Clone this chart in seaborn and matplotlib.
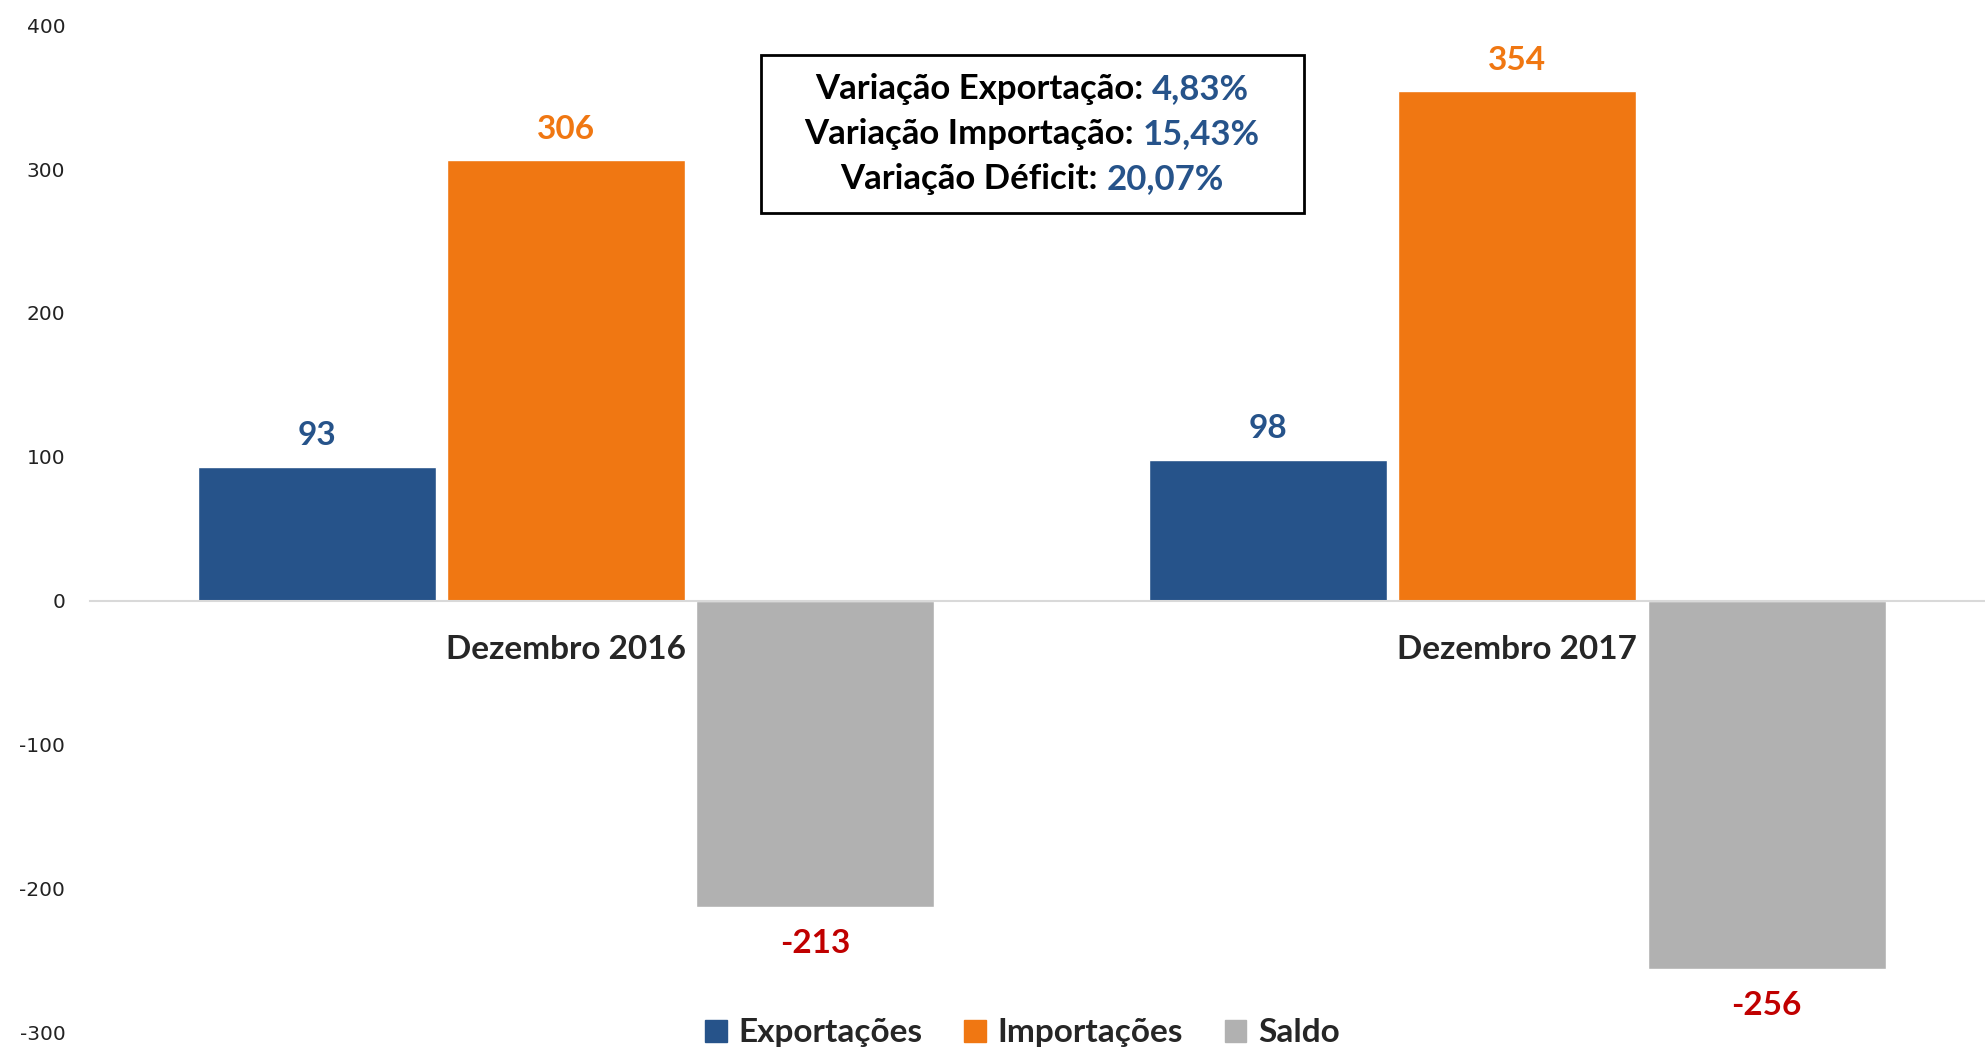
import matplotlib
matplotlib.use("Agg")
import matplotlib.pyplot as plt
import seaborn as sns
import pandas as pd
from matplotlib.offsetbox import TextArea, HPacker, VPacker, AnchoredOffsetbox, DrawingArea
from matplotlib.patches import Patch

# --- Data ---
periods = ["Dezembro 2016", "Dezembro 2017"]
series = ["Exportações", "Importações", "Saldo"]
exportacoes = [93, 98]
importacoes = [306, 354]
saldo = [-213, -256]
var_labels = ["Variação Exportação: ", "Variação Importação: ", "Variação Déficit: "]
var_values = ["4,83%", "15,43%", "20,07%"]
y_ticks = [-300, -200, -100, 0, 100, 200, 300, 400]

bar_colors = ["#26538A", "#F07712", "#B1B1B1"]
label_colors = ["#26538A", "#F07712", "#C00000"]

df = pd.DataFrame({
    "periodo": periods * 3,
    "serie": [s for s in series for _ in periods],
    "valor": exportacoes + importacoes + saldo,
})

sns.set_style("white")
plt.rcParams["font.family"] = ["Lato", "DejaVu Sans"]
plt.rcParams["axes.unicode_minus"] = False

fig, ax = plt.subplots(figsize=(19.85, 10.48), dpi=100)
fig.subplots_adjust(left=0.0455, right=1.004, top=0.976, bottom=0.015)

sns.barplot(data=df, x="periodo", y="valor", hue="serie", palette=bar_colors,
            saturation=1, width=0.786, gap=0.045, legend=False, ax=ax)

# value labels
for cont, col in zip(ax.containers, label_colors):
    neg = cont.datavalues[0] < 0
    ax.bar_label(cont, fmt="%d", padding=15.5 if neg else 12, fontsize=24,
                 fontweight="bold", color=col)

ax.set_ylim(-300, 400)
ax.set_yticks(y_ticks)
ax.set_xlabel("")
ax.set_ylabel("")

for s in ["top", "right", "left"]:
    ax.spines[s].set_visible(False)
ax.spines["bottom"].set_position(("data", 0))
ax.spines["bottom"].set_color("#D9D9D9")
ax.spines["bottom"].set_linewidth(1.5)

ax.tick_params(axis="y", length=0, pad=18, labelsize=14.5, labelcolor="#222222")
ax.tick_params(axis="x", length=0, pad=25)
ax.set_yticklabels([str(v) for v in y_ticks], fontfamily="DejaVu Sans")
ax.set_xticklabels(periods, fontsize=24, fontweight="bold")

# variation box
rows = []
for lab, val in zip(var_labels, var_values):
    t1 = TextArea(lab, textprops=dict(size=25, weight="bold", color="black"))
    t2 = TextArea(val, textprops=dict(size=25, weight="bold", color="#26538A"))
    rows.append(HPacker(children=[t1, t2], align="baseline", pad=0, sep=0))
vbox = VPacker(children=rows, align="center", pad=0, sep=9.5)
inner = HPacker(children=[DrawingArea(18.5, 1), vbox, DrawingArea(18.5, 1)],
                align="center", pad=0, sep=0)
box = AnchoredOffsetbox(loc="center", child=inner, pad=1.3, frameon=True,
                        prop=dict(size=10),
                        bbox_to_anchor=(0.52, 0.872), bbox_transform=fig.transFigure,
                        borderpad=0)
box.patch.set_edgecolor("black")
box.patch.set_linewidth(2)
ax.add_artist(box)

# legend
handles = [Patch(color=c, label=s) for c, s in zip(bar_colors, series)]
fig.legend(handles=handles, loc="lower center", ncol=3, bbox_to_anchor=(0.515, -0.028),
           frameon=False, prop=dict(size=24, weight="bold"), handlelength=0.65,
           handleheight=0.65, columnspacing=1.25, handletextpad=0.35)

plt.savefig("out.png", dpi=100)
